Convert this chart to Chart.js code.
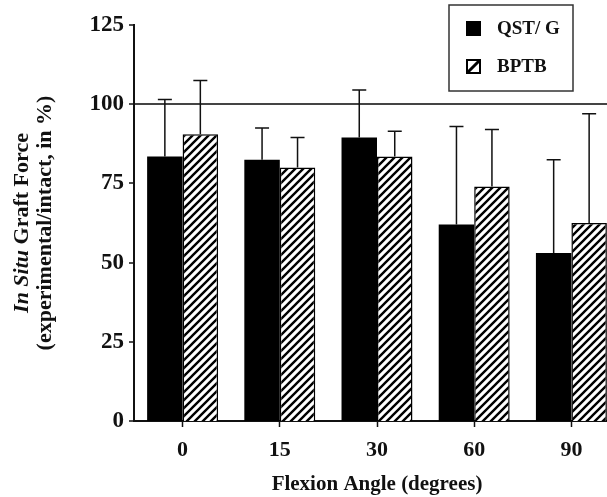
<!DOCTYPE html>
<html>
<head>
<meta charset="utf-8">
<script src="https://cdn.jsdelivr.net/npm/chart.js@4.4.1/dist/chart.umd.min.js"></script>
<style>
  html, body { margin: 0; padding: 0; background: #fff; overflow: hidden; }
  #wrap { width: 622px; height: 497px; position: relative; }
</style>
</head>
<body>
<div id="wrap"><canvas id="graft-chart"></canvas></div>
<script>
// dados
const angles = ['0', '15', '30', '60', '90'];
const qstMean = [83.5, 82.5, 89.5, 62, 53];
const qstSd = [18, 10, 15, 31, 29.5];
const bptbMean = [90.5, 80, 83.5, 74, 62.5];
const bptbSd = [17, 9.5, 8, 18, 34.5];
const yTicks = [0, 25, 50, 75, 100, 125];

const ink = '#111';
const serif = "'Liberation Serif', 'Times New Roman', serif";

// padrão hachurado (/)
function makeHatch() {
    const c = document.createElement('canvas');
    c.width = 8; c.height = 8;
    const g = c.getContext('2d');
    g.fillStyle = '#fff';
    g.fillRect(0, 0, 8, 8);
    g.strokeStyle = '#000';
    g.lineWidth = 2.4;
    g.beginPath();
    g.moveTo(-2, 10); g.lineTo(10, -2);
    g.moveTo(-6, 6); g.lineTo(6, -6);
    g.moveTo(2, 14); g.lineTo(14, 2);
    g.stroke();
    return g.createPattern(c, 'repeat');
}
const hatch = makeHatch();

// barras de erro (só para cima)
const errorBars = {
    id: 'errorBars',
    afterDatasetsDraw(chart) {
        const ctx = chart.ctx;
        const y = chart.scales.y;
        const sds = [qstSd, bptbSd];
        ctx.save();
        ctx.strokeStyle = ink;
        ctx.lineWidth = 1.5;
        chart.data.datasets.forEach((ds, i) => {
            chart.getDatasetMeta(i).data.forEach((bar, j) => {
                const top = y.getPixelForValue(ds.data[j] + sds[i][j]);
                ctx.beginPath();
                ctx.moveTo(bar.x, bar.y);
                ctx.lineTo(bar.x, top);
                ctx.moveTo(bar.x - 7, top);
                ctx.lineTo(bar.x + 7, top);
                ctx.stroke();
            });
        });
        ctx.restore();
    }
};

// legenda com caixa + título do eixo Y (itálico misto)
const extras = {
    id: 'extras',
    afterDraw(chart) {
        const ctx = chart.ctx;
        ctx.save();
        // caixa da legenda
        ctx.strokeStyle = '#333';
        ctx.lineWidth = 1.5;
        ctx.strokeRect(449, 5, 124, 86);
        const rows = [29, 67];
        chart.data.datasets.forEach((ds, i) => {
            const cy = rows[i];
            if (i === 0) {
                ctx.fillStyle = '#000';
                ctx.fillRect(466, cy - 8, 15, 15);
            } else {
                ctx.fillStyle = '#fff';
                ctx.fillRect(466, cy - 8, 15, 15);
                ctx.strokeStyle = '#000';
                ctx.lineWidth = 2;
                ctx.strokeRect(467, cy - 7, 13, 13);
                ctx.lineWidth = 3;
                ctx.beginPath();
                ctx.moveTo(467, cy + 6);
                ctx.lineTo(480, cy - 7);
                ctx.stroke();
            }
            ctx.fillStyle = ink;
            ctx.font = 'bold 19px ' + serif;
            ctx.textBaseline = 'middle';
            ctx.textAlign = 'left';
            ctx.fillText(ds.label, 497, cy);
        });

        // título do eixo Y
        const area = chart.chartArea;
        const cy = (area.top + area.bottom) / 2;
        ctx.translate(22, cy);
        ctx.rotate(-Math.PI / 2);
        ctx.textBaseline = 'middle';
        ctx.fillStyle = ink;
        const it = 'italic bold 22px ' + serif;
        const bd = 'bold 22px ' + serif;
        ctx.font = it;
        const w1 = ctx.measureText('In Situ').width;
        ctx.font = bd;
        const w2 = ctx.measureText(' Graft Force').width;
        let x0 = -(w1 + w2) / 2;
        ctx.textAlign = 'left';
        ctx.font = it;
        ctx.fillText('In Situ', x0, 0);
        ctx.font = bd;
        ctx.fillText(' Graft Force', x0 + w1, 0);
        ctx.textAlign = 'center';
        ctx.fillText('(experimental/intact, in %)', 0, 23);
        ctx.restore();
    }
};

new Chart(document.getElementById('graft-chart'), {
    type: 'bar',
    data: {
        labels: angles,
        datasets: [{
            label: 'QST/ G',
            data: qstMean,
            backgroundColor: '#000',
            borderColor: '#000',
            borderWidth: 0
        }, {
            label: 'BPTB',
            data: bptbMean,
            backgroundColor: hatch,
            borderColor: '#000',
            borderWidth: 1.5
        }]
    },
    options: {
        responsive: true,
        maintainAspectRatio: false,
        animation: false,
        datasets: {
            bar: { categoryPercentage: 0.73, barPercentage: 1.0 }
        },
        layout: { padding: { top: 25, right: 2, left: 0, bottom: 0 } },
        plugins: {
            legend: { display: false },
            tooltip: { enabled: false }
        },
        scales: {
            x: {
                grid: {
                    offset: false,
                    drawOnChartArea: false,
                    tickColor: ink,
                    tickLength: 6,
                    tickWidth: 1.5
                },
                border: { color: ink, width: 2 },
                ticks: {
                    color: ink,
                    font: { family: serif, size: 22, weight: 'bold' },
                    padding: 10
                },
                title: {
                    display: true,
                    text: 'Flexion Angle (degrees)',
                    color: ink,
                    font: { family: serif, size: 21, weight: 'bold' },
                    padding: { top: 2, bottom: 0 }
                },
                afterFit(scale) { scale.height = 76; }
            },
            y: {
                min: 0,
                max: 125,
                afterBuildTicks(scale) {
                    scale.ticks = yTicks.map(v => ({ value: v }));
                },
                grid: {
                    color: c => (c.tick && c.tick.value === 100) ? '#444' : 'rgba(0,0,0,0)',
                    lineWidth: c => (c.tick && c.tick.value === 100) ? 2 : 0,
                    tickColor: ink,
                    tickLength: 5,
                    tickWidth: 1.5
                },
                border: { color: ink, width: 2 },
                ticks: {
                    color: ink,
                    font: { family: serif, size: 23, weight: 'bold' },
                    padding: 5
                },
                afterFit(scale) { scale.width = 134; }
            }
        }
    },
    plugins: [errorBars, extras]
});
</script>
</body>
</html>
